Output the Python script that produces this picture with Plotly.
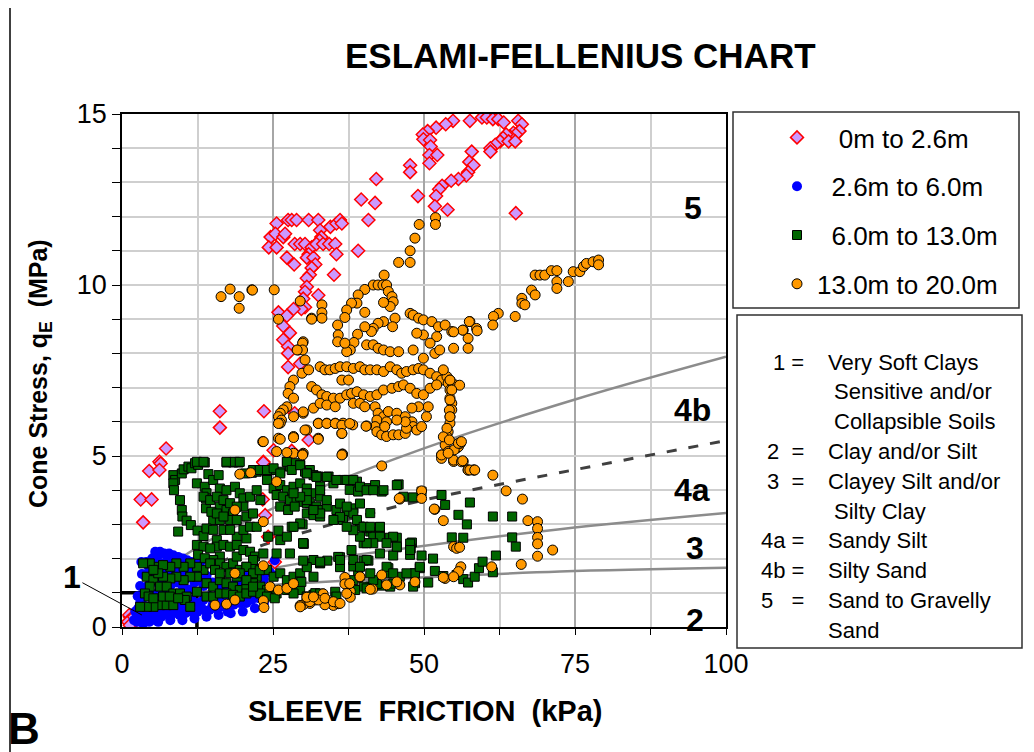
import plotly.graph_objects as go

# ---- data: (sleeve friction kPa, cone stress MPa) ----
depth_0_26 = [
    (25.6, 11.8), (24.6, 11.4), (24.3, 11.1), (25.6, 11.1), (25.4, 11.5), (26.7, 11.4), (27.0, 11.5),
    (27.5, 11.9), (28.1, 11.9), (28.9, 11.9), (30.9, 11.9), (32.5, 11.9), (34.5, 11.7), (35.5, 11.8),
    (36.1, 11.9), (36.4, 11.8), (32.8, 11.6), (33.0, 11.4), (32.7, 11.3), (28.6, 11.2), (29.5, 11.2),
    (30.3, 11.2), (31.4, 11.1), (32.2, 11.2), (33.3, 11.2), (34.3, 11.2), (35.3, 11.2), (30.9, 10.9),
    (30.6, 10.8), (31.7, 10.8), (32.0, 10.6), (31.4, 10.5), (31.1, 10.3), (30.6, 10.2), (35.5, 10.9),
    (35.1, 10.3), (39.1, 11.0), (40.8, 11.9), (27.3, 10.8), (28.5, 10.6), (30.6, 9.95), (30.3, 9.8),
    (32.5, 9.7), (30.0, 9.6), (25.9, 9.2), (30.3, 9.35), (29.7, 9.3), (28.4, 9.3), (27.3, 9.1),
    (26.7, 8.8), (27.8, 8.6), (26.7, 8.4), (27.5, 8.2), (27.5, 8.0), (29.5, 7.7), (27.5, 7.6),
    (39.6, 12.5), (41.9, 12.4), (42.1, 13.1), (47.7, 13.5), (47.7, 13.3), (49.0, 12.6),
    (57.6, 14.8), (59.6, 14.9), (60.4, 14.9), (61.4, 14.85), (62.3, 14.85), (63.2, 14.75), (65.6, 14.8),
    (66.2, 14.7), (65.8, 14.5), (64.8, 14.45), (65.2, 14.4), (64.2, 14.35), (63.6, 14.4), (63.1, 14.3),
    (62.6, 14.2), (61.8, 14.1), (61.0, 14.0), (61.0, 13.9), (64.0, 14.2), (65.1, 14.2), (57.9, 13.9),
    (57.5, 13.6), (58.2, 13.5), (57.3, 13.3), (57.0, 13.2), (55.7, 13.1), (54.5, 13.05), (53.0, 12.9),
    (52.5, 12.8), (52.0, 12.6), (51.8, 12.3), (53.9, 12.2), (65.2, 12.1), (54.8, 14.8), (53.6, 14.7),
    (52.0, 14.6), (50.6, 14.5), (49.8, 14.4), (49.9, 14.26), (51.0, 14.24), (51.1, 14.05), (50.9, 13.8),
    (52.2, 13.8), (50.9, 13.56),
    (16.2, 6.31), (23.5, 6.31), (16.2, 5.83), (7.3, 5.22), (6.2, 4.83), (6.4, 4.78), (4.5, 4.56),
    (6.2, 4.59), (3.1, 3.73), (4.9, 3.73), (3.5, 3.06), (23.4, 4.83), (25.1, 5.17), (28.1, 5.15),
    (28.6, 6.25), (30.9, 5.47), (23.7, 3.27), (24.2, 2.64), (23.3, 3.73), (23.4, 4.81), (25.3, 1.9),
    (1.3, 0.3), (1.6, 0.2), (1.2, 0.35), (1.5, 0.25), (1.0, 0.15), (1.8, 0.1), (1.3, 0.05), (2.0, 0.3),
]

depth_26_60 = [
    (5.5, 2.2), (6.3, 2.2), (7.0, 2.15), (7.8, 2.15), (8.5, 2.1), (9.3, 2.05), (10.1, 2.0), (10.8, 1.95),
    (11.5, 1.9), (5.0, 2.0), (5.2, 1.8), (5.0, 1.6), (6.0, 1.9), (7.0, 1.85), (8.0, 1.8), (9.0, 1.7),
    (10.0, 1.6), (6.5, 1.6), (4.8, 1.4), (4.2, 1.2), (4.0, 1.0), (3.5, 0.85), (3.0, 0.7), (2.7, 0.55),
    (2.5, 0.4), (3.0, 0.3), (3.5, 0.25), (4.0, 0.35), (4.5, 0.3), (5.5, 0.35), (6.5, 0.3), (7.5, 0.35),
    (8.5, 0.4), (9.5, 0.35), (10.5, 0.4), (11.5, 0.45), (12.5, 0.45), (13.5, 0.5), (14.5, 0.5),
    (15.5, 0.55), (16.5, 0.6), (17.5, 0.6), (18.5, 0.65), (19.5, 0.7), (20.5, 0.75), (21.5, 0.8),
    (22.5, 0.85), (23.0, 1.0), (22.0, 1.1), (3.5, 0.5), (4.5, 0.6), (5.5, 0.7), (6.5, 0.5), (7.5, 0.6),
    (8.5, 0.7), (9.5, 0.6), (10.5, 0.7), (11.5, 0.8), (12.5, 0.7), (13.5, 0.8), (14.5, 0.9), (15.5, 0.8),
    (16.5, 0.9), (17.5, 1.0), (18.5, 0.9), (19.5, 1.0), (20.5, 1.1), (21.5, 1.2), (6.0, 1.0), (7.0, 1.1),
    (8.0, 1.2), (9.0, 1.3), (10.0, 1.2), (11.0, 1.1), (12.0, 1.3), (13.0, 1.4), (14.0, 1.5), (5.0, 0.9),
    (25.3, 1.95), (20.6, 0.7), (2.2, 0.45), (3.2, 1.9), (4.0, 1.9), (4.5, 1.65), (6.0, 2.1), (12.0, 1.75),
    (13.0, 1.9), (18.5, 1.7), (20.0, 1.6), (17.5, 0.45), (24.5, 1.6), (25.2, 1.5), (23.5, 1.4),
    (2.0, 0.2), (2.5, 0.15), (3.5, 0.1), (4.5, 0.15), (5.5, 0.2),
    (3.2, 0.15), (4.8, 0.45), (6.0, 0.15), (7.2, 0.5), (8.0, 0.2), (9.0, 0.55), (10.0, 0.2), (11.0, 0.55),
    (12.0, 0.25), (13.0, 0.65), (14.0, 0.3), (15.0, 0.65), (16.0, 0.35), (17.0, 0.75), (18.0, 0.4),
    (19.0, 0.8), (20.0, 0.45), (21.0, 0.9), (22.0, 0.55), (23.5, 0.7), (24.0, 0.9), (3.8, 1.5),
    (4.3, 1.8), (5.8, 1.3), (6.8, 1.35), (7.5, 1.5), (8.5, 1.55), (9.5, 1.45), (10.5, 1.4), (11.5, 1.55),
    (12.5, 1.6), (13.5, 1.2), (15.0, 1.3), (16.0, 1.1), (17.0, 1.25), (18.0, 1.2), (19.0, 1.3),
    (20.0, 1.35), (21.0, 1.45), (22.5, 1.5), (7.5, 2.0), (9.8, 1.85), (11.0, 1.75), (3.0, 1.2),
    (2.6, 0.9), (3.3, 1.55),
]

depth_60_130 = [
    (8.5, 4.44), (8.8, 4.30), (9.9, 4.49), (10.2, 4.61), (11.0, 4.69), (11.5, 4.64), (12.1, 4.79),
    (12.6, 4.74), (13.7, 4.81), (14.3, 4.47), (17.3, 4.81), (18.4, 4.81), (19.3, 4.81), (20.4, 4.49),
    (21.5, 4.51), (22.3, 4.54), (23.1, 4.59), (24.0, 4.51), (24.8, 4.59), (26.2, 4.54), (27.3, 4.83),
    (27.8, 4.69), (28.6, 4.79), (29.5, 4.74), (30.3, 4.54), (31.1, 4.59), (31.7, 4.44), (32.5, 4.40),
    (8.5, 4.20), (8.6, 4.0), (9.6, 3.71), (9.9, 3.42), (10.0, 3.23), (10.7, 3.11), (11.4, 2.98),
    (9.3, 2.79), (12.5, 2.82), (13.5, 2.66), (12.4, 4.20), (13.7, 4.10), (14.0, 3.91), (13.9, 3.76),
    (13.9, 3.47), (15.1, 4.30), (16.0, 4.44), (16.2, 4.05), (17.3, 4.0), (18.7, 4.10), (19.5, 3.91),
    (20.1, 3.76), (21.2, 3.81), (22.3, 4.0), (22.9, 3.71), (16.2, 3.52), (17.3, 3.42), (18.4, 3.32),
    (20.1, 3.52), (20.6, 3.23), (21.7, 3.32), (15.1, 3.13), (16.2, 3.13), (14.8, 3.37), (17.9, 3.13),
    (19.0, 3.13), (24.0, 4.30), (25.1, 4.05), (26.2, 4.15), (27.3, 4.0), (28.4, 4.10), (29.5, 4.20),
    (30.6, 4.05), (31.7, 3.91), (32.8, 3.81), (25.6, 3.86), (26.7, 3.81), (27.8, 3.71), (28.9, 3.76),
    (30.0, 3.66), (31.1, 3.62), (32.2, 3.52), (26.2, 3.52), (27.5, 3.42), (28.6, 3.52), (30.6, 3.32),
    (31.7, 3.27), (32.8, 3.42), (15.7, 2.54), (19.0, 2.64), (20.6, 2.59), (24.2, 2.64), (25.9, 2.82),
    (28.1, 2.93), (29.9, 3.0), (30.0, 2.45), (26.2, 2.54),
    (15.7, 2.35), (16.2, 2.06), (15.1, 1.96), (16.2, 1.86), (17.3, 1.76), (18.4, 1.86), (19.0, 2.06),
    (19.5, 1.67), (20.6, 1.76), (21.7, 1.76), (22.3, 1.47), (24.0, 1.67), (25.1, 1.47), (26.2, 1.57),
    (27.3, 1.37), (28.4, 1.47), (29.5, 1.57), (30.6, 1.86), (31.7, 1.96), (32.8, 1.86), (13.5, 1.67),
    (12.4, 1.47), (11.3, 1.47), (10.2, 1.37), (9.0, 1.47), (8.0, 1.42), (6.8, 1.47), (5.7, 1.76),
    (4.6, 1.86), (3.5, 1.86), (4.1, 1.47), (5.2, 1.37), (6.3, 1.18), (7.4, 1.18), (8.5, 0.98),
    (9.6, 0.98), (10.7, 0.89), (12.4, 1.03), (14.0, 1.28), (15.1, 1.18), (16.2, 1.37), (17.3, 1.28),
    (18.4, 1.18), (19.5, 1.08), (20.6, 1.13), (21.7, 1.28), (22.9, 1.18), (24.0, 1.08), (25.6, 0.98),
    (27.3, 1.08), (28.4, 1.18), (29.5, 1.08), (30.6, 0.89), (31.7, 0.94), (6.3, 0.64), (7.4, 0.64),
    (8.5, 0.64), (5.2, 0.59), (4.1, 0.59), (3.0, 0.59), (10.4, 0.79), (11.3, 0.59),
    (13.5, 3.81), (14.6, 3.71), (15.7, 3.81), (16.8, 3.71), (17.9, 3.62), (19.0, 3.52), (15.7, 3.32),
    (16.8, 3.23), (14.0, 2.88), (15.1, 2.84), (16.8, 2.84), (17.9, 2.84), (20.1, 2.84), (21.2, 2.93),
    (22.3, 2.93), (12.4, 2.40), (13.5, 2.35), (14.6, 2.30), (16.8, 2.40), (17.9, 2.35), (19.0, 2.40),
    (20.1, 2.25), (21.2, 2.20), (22.0, 2.06), (12.6, 2.11), (13.7, 2.01), (14.6, 1.86), (15.4, 1.67),
    (16.2, 1.57), (17.9, 1.57), (19.0, 1.47), (12.4, 1.76), (11.3, 1.86), (10.2, 1.76), (9.0, 1.86),
    (8.0, 1.76), (6.8, 1.81), (6.0, 1.57), (5.2, 1.67), (4.6, 1.18), (3.8, 0.98), (4.4, 0.89),
    (5.2, 0.84), (6.8, 0.89), (7.9, 0.89), (9.3, 0.84), (14.0, 0.89), (15.1, 0.89), (16.2, 0.98),
    (17.3, 0.98), (18.4, 0.94), (19.5, 0.89), (20.6, 0.98), (21.7, 1.03), (22.9, 0.98), (24.0, 0.89),
    (25.3, 0.84),
    (30.6, 4.50), (32.2, 4.40), (34.2, 4.40), (35.0, 4.20), (36.6, 4.30), (37.5, 4.30), (38.9, 4.25),
    (37.7, 4.01), (39.1, 3.96), (40.5, 4.06), (41.9, 4.15), (43.0, 3.96), (38.3, 3.47), (37.2, 3.37),
    (35.5, 3.42), (33.9, 3.52), (32.8, 3.23), (31.7, 3.42), (30.6, 3.62), (30.6, 3.91), (32.8, 4.11),
    (36.6, 3.13), (39.4, 2.94), (41.1, 2.79), (41.6, 2.64),
    (45.8, 4.17), (48.2, 3.79), (49.6, 3.96), (52.9, 3.86), (53.5, 3.57), (57.6, 3.64), (55.7, 3.28),
    (57.1, 3.0), (61.4, 3.23), (64.6, 3.23), (54.6, 2.62), (56.5, 2.61), (64.6, 2.62), (65.2, 2.35),
    (44.3, 2.61), (45.5, 2.61), (48.0, 2.47), (47.8, 2.30), (47.7, 2.11), (49.6, 2.09), (51.5, 2.0),
    (45.5, 2.33), (44.9, 2.09), (41.1, 3.33), (42.7, 2.92), (42.7, 2.74), (40.5, 2.89), (40.0, 2.45),
    (38.0, 2.25), (36.1, 2.04), (36.1, 1.75), (34.0, 1.94), (32.8, 1.88), (30.6, 1.75), (30.0, 1.94),
    (30.1, 2.43), (39.1, 1.64), (40.8, 1.94), (40.0, 1.94), (44.1, 1.72), (43.9, 1.57), (46.0, 1.47),
    (48.5, 1.57), (49.3, 1.72), (51.8, 1.64), (53.2, 1.49), (55.4, 1.52), (56.5, 1.40), (57.3, 1.30),
    (58.4, 1.47), (59.1, 1.72), (59.7, 1.91), (61.4, 1.60), (61.9, 2.09), (50.7, 1.30), (48.5, 1.28),
    (44.4, 1.18), (43.0, 1.21), (42.2, 1.26), (41.1, 1.18), (40.0, 1.18), (38.6, 1.08), (35.3, 1.03),
    (32.0, 0.99), (30.6, 0.89), (29.5, 1.33), (31.7, 1.47), (38.3, 1.77),
    (28.4, 0.98), (29.7, 1.32), (32.8, 1.91), (35.8, 2.05), (32.8, 0.98), (35.5, 0.89), (38.3, 1.37),
    (40.5, 1.96), (42.7, 2.15), (44.9, 2.64), (47.7, 2.44), (48.5, 1.57), (48.2, 1.18), (44.9, 1.27),
    (41.6, 1.37), (40.5, 1.13),
    (12.4, 4.83), (13.5, 4.83), (17.3, 4.83), (18.7, 4.83), (19.5, 4.83), (21.7, 4.59), (22.8, 4.59),
    (24.0, 4.59), (25.1, 4.64), (26.2, 4.49), (27.3, 4.83), (28.1, 4.59), (29.5, 4.73), (30.6, 4.49),
    (32.2, 4.39), (33.9, 4.39), (35.5, 4.30), (37.2, 4.30), (38.3, 4.30), (39.4, 4.10), (40.5, 4.0),
    (41.6, 4.0), (43.3, 4.0), (45.5, 4.15), (46.6, 3.81), (39.4, 3.61), (38.3, 3.32), (36.1, 3.22),
    (35.0, 3.13), (32.8, 3.32), (31.7, 3.42), (30.6, 3.71), (29.5, 3.81), (28.4, 3.91), (32.8, 4.0),
    (33.9, 3.71), (36.1, 3.61), (37.2, 3.52), (38.9, 3.13), (40.0, 2.93), (41.1, 2.93), (42.7, 2.93),
    (42.7, 2.64), (41.6, 2.45), (40.5, 2.45), (39.4, 2.64), (38.3, 2.83), (37.2, 2.93), (29.5, 3.03),
    (28.4, 2.93), (27.3, 2.64), (30.0, 2.45), (27.8, 2.15), (25.6, 2.15), (23.4, 2.15), (21.7, 1.96),
    (20.6, 1.76), (19.5, 1.57), (21.7, 1.57), (22.8, 1.66), (20.6, 1.37), (21.7, 1.18), (36.1, 1.96),
    (38.3, 1.96), (39.4, 1.76), (41.1, 1.57), (43.8, 1.76), (44.9, 1.57), (47.1, 1.57), (49.3, 1.76),
    (47.7, 2.25), (45.5, 2.35), (43.8, 2.45),
]

depth_130_200 = [
    (43.4, 10.29), (41.6, 10.0), (42.4, 10.0), (43.2, 10.0), (43.8, 10.0), (40.2, 9.87), (39.1, 9.71),
    (38.9, 9.47), (38.0, 9.47), (37.2, 9.27), (36.9, 9.05), (35.7, 8.83), (40.2, 9.2), (44.1, 9.81),
    (44.7, 9.66), (44.9, 9.51), (44.4, 9.37), (43.3, 9.49), (45.2, 9.03), (44.8, 8.78), (43.3, 8.93),
    (42.4, 8.88), (41.6, 8.73), (41.3, 8.64), (40.2, 8.78), (39.0, 8.56), (38.4, 8.32), (37.8, 8.1),
    (37.2, 8.05), (35.8, 8.54), (35.7, 8.34), (36.9, 8.3), (40.5, 8.25), (41.6, 8.25), (42.4, 8.15),
    (43.3, 8.1), (44.4, 8.05), (45.8, 8.05),
    (33.1, 9.42), (33.1, 9.19), (33.1, 9.03), (31.4, 9.03), (30.0, 8.34), (29.2, 8.1), (30.3, 7.81),
    (29.8, 7.42), (30.9, 7.52), (28.4, 7.22), (27.8, 7.03), (27.5, 6.83), (28.4, 6.69), (27.3, 6.44),
    (26.7, 6.35), (26.2, 6.25), (25.9, 6.15), (26.4, 6.05), (26.2, 5.96),
    (32.8, 7.61), (33.6, 7.52), (34.4, 7.52), (35.3, 7.56), (36.1, 7.61), (37.2, 7.61), (38.3, 7.56),
    (39.4, 7.61), (40.2, 7.52), (41.1, 7.52), (42.2, 7.52), (43.3, 7.47), (44.4, 7.61), (45.5, 7.52),
    (46.3, 7.42), (47.1, 7.47), (48.2, 7.52), (49.1, 7.56), (49.9, 7.52), (51.0, 7.42), (52.1, 7.32),
    (52.9, 7.22), (53.8, 7.32), (54.3, 7.22), (55.1, 7.08),
    (31.4, 7.03), (32.2, 6.93), (33.1, 6.79), (33.9, 6.74), (35.0, 6.69), (36.1, 6.69), (37.2, 6.79),
    (38.0, 6.83), (38.9, 6.88), (40.0, 6.79), (41.1, 6.74), (42.2, 6.79), (43.3, 6.93), (44.7, 6.98),
    (45.8, 7.03), (46.6, 7.08), (47.7, 6.98), (48.8, 6.83), (49.9, 6.79), (51.0, 6.98), (52.1, 7.08),
    (36.4, 7.22), (37.5, 7.22), (31.7, 6.40), (32.8, 6.54), (33.9, 6.49), (35.3, 6.44), (38.3, 6.54),
    (39.4, 6.54), (40.2, 6.44), (41.9, 6.44), (42.4, 6.25), (43.3, 6.15), (44.1, 6.30), (45.5, 6.25),
    (46.9, 6.15), (48.0, 6.0), (48.2, 5.86), (48.8, 5.76), (49.6, 5.86), (50.4, 6.15), (50.7, 6.44),
    (49.1, 6.44), (48.0, 6.40),
    (42.2, 6.05), (41.9, 5.86), (42.2, 5.71), (43.0, 5.62), (43.8, 5.57), (44.9, 5.62), (45.8, 5.62),
    (46.9, 5.66), (47.1, 5.81), (46.9, 6.0), (45.5, 6.05), (43.8, 6.0), (43.5, 5.86),
    (53.2, 7.52), (54.0, 7.13), (54.3, 6.93), (54.3, 6.69), (54.6, 6.54), (54.6, 6.35), (54.3, 6.15),
    (54.3, 5.96), (54.0, 5.71), (53.8, 5.57), (53.5, 5.32), (54.0, 5.13), (56.0, 5.37), (55.4, 5.23),
    (52.9, 5.03), (52.9, 4.93), (54.9, 4.84), (56.5, 4.84), (57.3, 4.59), (58.2, 4.59),
    (47.7, 9.17), (48.2, 9.12), (49.1, 9.03), (49.9, 8.98), (51.3, 8.93), (52.4, 8.78), (53.5, 8.83),
    (54.6, 8.64), (56.5, 8.68), (57.6, 8.93), (58.7, 8.73), (57.3, 8.44), (57.3, 8.15), (54.9, 8.15),
    (52.1, 8.49), (51.0, 8.30), (49.9, 8.54), (48.8, 8.59), (48.2, 8.10), (49.9, 7.86), (51.8, 8.0),
    (52.6, 8.10),
    (30.0, 6.25), (30.6, 5.76), (32.5, 5.96), (33.9, 5.96), (35.3, 5.96), (36.6, 5.96), (38.2, 5.91),
    (40.5, 5.88), (28.4, 5.57), (32.5, 5.52), (36.4, 5.66), (25.9, 5.52), (23.3, 5.42), (25.6, 5.13),
    (28.4, 5.08), (30.0, 5.08), (36.5, 5.06), (43.0, 4.71), (21.5, 9.86), (25.2, 9.86), (29.5, 9.53),
    (28.4, 6.15),
    (16.4, 9.66), (17.9, 9.88), (19.4, 9.66), (19.4, 9.32), (21.6, 9.85), (25.9, 9.0), (31.4, 9.0),
    (29.9, 8.3), (29.9, 8.1), (29.0, 8.1), (49.2, 11.77), (51.9, 11.97), (51.9, 11.77), (48.5, 11.37),
    (47.7, 11.0), (47.7, 10.66), (45.8, 10.66),
    (68.4, 10.29), (69.2, 10.29), (70.0, 10.29), (71.1, 10.42), (72.0, 10.42), (74.7, 10.39),
    (75.8, 10.39), (76.4, 10.54), (76.9, 10.63), (78.0, 10.68), (78.9, 10.73), (78.9, 10.59),
    (72.0, 10.1), (72.0, 9.9), (73.9, 10.1), (67.8, 9.85), (68.4, 9.71), (66.2, 9.61), (66.2, 9.46),
    (66.7, 9.42), (65.1, 9.08), (62.3, 9.17), (61.5, 9.08), (61.4, 8.83), (57.5, 8.93), (58.8, 8.66),
    (56.4, 8.68), (54.9, 8.63), (55.9, 7.07),
    (54.3, 7.22), (54.6, 6.93), (54.3, 6.64), (54.2, 6.34), (54.3, 6.15), (53.8, 5.81), (53.2, 5.56),
    (54.2, 5.47), (55.7, 5.27), (56.0, 5.37), (52.9, 5.03), (54.9, 4.88), (56.2, 4.83), (57.3, 4.59),
    (58.3, 4.59), (61.4, 4.44), (63.6, 3.98), (66.3, 3.74), (67.2, 3.11), (68.8, 3.08), (68.8, 2.88),
    (68.8, 2.62), (68.8, 2.43), (68.8, 2.07), (71.3, 2.25), (66.1, 1.83),
    (51.8, 3.44), (53.2, 3.11), (54.9, 2.35), (55.4, 2.30), (61.2, 1.76), (56.1, 1.76), (55.7, 1.62),
    (53.5, 1.42), (48.5, 1.32), (46.0, 1.23), (46.0, 3.74), (49.6, 3.98), (49.6, 3.76),
    (29.9, 5.05), (36.5, 5.05), (45.9, 3.76), (51.7, 3.45), (55.9, 2.33), (55.0, 5.18), (54.0, 5.08),
    (55.7, 5.37), (56.2, 5.42), (56.4, 4.86), (57.6, 4.59), (58.4, 4.59), (54.9, 1.47), (53.2, 1.45),
    (43.8, 1.23), (43.0, 1.52), (41.5, 1.11), (39.4, 1.45), (36.9, 1.45), (36.9, 1.26), (37.8, 1.04),
    (37.8, 0.87), (35.0, 0.63), (33.6, 0.84), (33.6, 0.65), (33.3, 0.97), (32.0, 0.79), (31.1, 0.69),
    (30.0, 0.65), (35.8, 0.68), (29.5, 0.63),
    (23.4, 5.42), (26.2, 5.49), (28.4, 5.54), (30.3, 5.76), (32.5, 5.49), (25.9, 5.95), (30.0, 6.29),
    (32.5, 5.95), (33.9, 5.95), (35.3, 5.95), (36.4, 5.9), (36.4, 5.66), (37.7, 5.95), (40.4, 5.87),
    (27.3, 5.10), (29.9, 5.03), (36.4, 5.03), (19.5, 4.47), (21.3, 4.51), (25.6, 4.25), (18.7, 3.42),
    (23.4, 3.08), (23.4, 1.79), (18.7, 1.57), (23.4, 0.77), (23.5, 0.57), (15.4, 0.64), (17.3, 0.67),
    (18.7, 0.79), (24.5, 1.18), (25.9, 1.08), (27.3, 1.13), (28.4, 1.27), (29.5, 0.59), (31.1, 0.74),
    (32.5, 0.79), (33.6, 0.84), (35.0, 0.74), (36.1, 0.69), (37.2, 0.98), (37.7, 1.27), (39.4, 1.47),
    (41.1, 1.10), (45.5, 1.32), (30.6, 0.87), (31.7, 0.88),
]

# zone boundaries
line_5_4b = [(3.0, 1.0), (10.1, 2.06), (25.6, 3.52), (49.3, 5.18), (75.0, 6.65), (100.0, 7.9)]
line_4b_4a = [(6.0, 1.15), (12.4, 1.62), (23.4, 2.40), (30.6, 2.79), (46.5, 3.57), (75.0, 4.6), (100.0, 5.45)]
line_4a_3 = [(10.0, 1.1), (17.9, 1.47), (29.5, 1.86), (46.0, 2.28), (72.5, 2.86), (100.0, 3.33)]
line_3_2 = [(12.4, 1.0), (17.9, 1.13), (29.5, 1.28), (46.0, 1.42), (72.5, 1.62), (100.0, 1.73)]
zone_1 = [(0.0, 1.0), (12.4, 1.0), (12.4, 0.0)]

zone_labels = ["5", "4b", "4a", "3", "2"]
zone_label_pos = [(94.5, 12.25), (94.4, 6.35), (94.4, 4.0), (94.9, 2.31), (94.9, 0.2)]

key_nums = ["1 =", "2  =", "3  =", "4a =", "4b =", "5   ="]
key_lines = [
    ("Very Soft Clays", 0), ("Sensitive and/or", 1), ("Collapsible Soils", 1),
    ("Clay and/or Silt", 0), ("Clayey Silt and/or", 0), ("Silty Clay", 1),
    ("Sandy Silt", 0), ("Silty Sand", 0), ("Sand to Gravelly", 0), ("Sand", 0),
]
key_num_rows = [0, 3, 4, 6, 7, 8]

FONT = "Liberation Sans, Arial, sans-serif"
W, H = 1034, 752
OFF = 8  # page body margin
L, T = 122 - OFF, 114 - OFF
R, B = W - (726 - OFF), H - (627 - OFF)
PW, PH = W - L - R, H - T - B


def px(x):
    return (x - OFF - L) / PW


def py(y):
    return (H - B - (y - OFF)) / PH


fig = go.Figure()

for pts in [line_5_4b, line_4a_3, line_3_2]:
    fig.add_trace(go.Scatter(x=[p[0] for p in pts], y=[p[1] for p in pts], mode="lines",
                             line=dict(color="#8c8c8c", width=2.5, shape="spline"),
                             showlegend=False, hoverinfo="skip"))
fig.add_trace(go.Scatter(x=[p[0] for p in line_4b_4a], y=[p[1] for p in line_4b_4a], mode="lines",
                         line=dict(color="#404040", width=3, dash="10px,12px", shape="spline"),
                         showlegend=False, hoverinfo="skip"))
fig.add_trace(go.Scatter(x=[p[0] for p in zone_1], y=[p[1] for p in zone_1], mode="lines",
                         line=dict(color="black", width=3.5),
                         showlegend=False, hoverinfo="skip"))

nb = "\u00a0"
series = [
    (depth_0_26, nb * 3 + "0m to 2.6m",
     dict(symbol="diamond", size=10, color="#CC99FF", line=dict(color="#FF0000", width=1.5))),
    (depth_26_60, nb * 2 + "2.6m to 6.0m",
     dict(symbol="circle", size=10, color="#0000FF", line=dict(width=0))),
    (depth_60_130, nb * 2 + "6.0m to 13.0m",
     dict(symbol="square", size=9, color="#006600", line=dict(color="black", width=1))),
    (depth_130_200, "13.0m to 20.0m",
     dict(symbol="circle", size=10, color="#FF9900", line=dict(color="black", width=1))),
]
for i, (pts, name, mk) in enumerate(series):
    fig.add_trace(go.Scatter(x=[p[0] for p in pts], y=[p[1] for p in pts], mode="markers",
                             name=name, marker=mk, legendgroup=f"g{i}"))

ann = []
for lab, (x, y) in zip(zone_labels, zone_label_pos):
    ann.append(dict(x=x, y=y, text=lab, showarrow=False, xref="x", yref="y",
                    xanchor="center", yanchor="middle",
                    font=dict(family=FONT, size=32, color="black", weight="bold")))

ann.append(dict(x=3.3, y=0.35, xref="x", yref="y", text="1", showarrow=True, arrowhead=0,
                arrowwidth=1, arrowcolor="black", ax=-70, ay=-38,
                font=dict(family=FONT, size=32, color="black", weight="bold")))


def paper_text(x, y, text, size, bold=False, **kw):
    f = dict(family=FONT, size=size, color="black")
    if bold:
        f["weight"] = "bold"
    d = dict(x=px(x), y=py(y), xref="paper", yref="paper", text=text, showarrow=False,
             xanchor="center", yanchor="middle", font=f)
    d.update(kw)
    ann.append(d)


paper_text(580, 56, "ESLAMI-FELLENIUS CHART", 35, bold=True)
paper_text(425, 711, "SLEEVE  FRICTION  (kPa)", 29, bold=True)
paper_text(40, 374, "Cone Stress, q<sub>E</sub>  (MPa)", 25, bold=True, textangle=-90)
paper_text(24, 728, "B", 44, bold=True)

row_y0, row_dy = 362, 29.8
for i, (txt, indent) in enumerate(key_lines):
    paper_text(826 + 6 * indent, row_y0 + i * row_dy, txt, 22, xanchor="left")
for lab, r in zip(key_nums, key_num_rows):
    paper_text(806, row_y0 + r * row_dy, lab.replace(" ", nb), 22, xanchor="right")

shapes = [
    dict(type="rect", xref="paper", yref="paper", x0=px(733), x1=px(1019), y0=py(308), y1=py(112),
         line=dict(color="#303030", width=1.5)),
    dict(type="rect", xref="paper", yref="paper", x0=px(737), x1=px(1022), y0=py(648), y1=py(315),
         line=dict(color="#303030", width=1.5)),
    dict(type="line", xref="paper", yref="paper", x0=px(10), x1=px(10), y0=py(0), y1=py(H + OFF),
         line=dict(color="black", width=1.5)),
]

fig.update_layout(
    width=W, height=H,
    margin=dict(l=L, r=R, t=T, b=B),
    paper_bgcolor="white", plot_bgcolor="white",
    font=dict(family=FONT, size=20, color="black"),
    annotations=ann, shapes=shapes,
    legend=dict(x=px(777), y=py(114), xanchor="left", yanchor="top",
                bgcolor="rgba(0,0,0,0)", borderwidth=0, tracegroupgap=12,
                font=dict(family=FONT, size=26, color="black")),
    xaxis=dict(range=[0, 100], dtick=25, tick0=0, showgrid=True, gridcolor="#a6a6a6", gridwidth=1.5,
               minor=dict(dtick=12.5, showgrid=True, gridcolor="#cfcfcf", gridwidth=1.5,
                          ticks="outside", ticklen=6, tickcolor="black"),
               ticks="outside", ticklen=6, tickcolor="black", showline=True, linecolor="black",
               linewidth=1.5, mirror=True, zeroline=False, ticklabelstandoff=6,
               tickfont=dict(family=FONT, size=27, color="black")),
    yaxis=dict(range=[0, 15], dtick=5, tick0=0, showgrid=True, gridcolor="#cfcfcf", gridwidth=1.5,
               minor=dict(dtick=1, showgrid=True, gridcolor="#cfcfcf", gridwidth=1.5,
                          ticks="outside", ticklen=8, tickcolor="black"),
               ticks="outside", ticklen=8, tickcolor="black", showline=True, linecolor="black",
               linewidth=1.5, mirror=True, zeroline=False,
               tickfont=dict(family=FONT, size=27, color="black")),
)

fig.write_html("out.html")
